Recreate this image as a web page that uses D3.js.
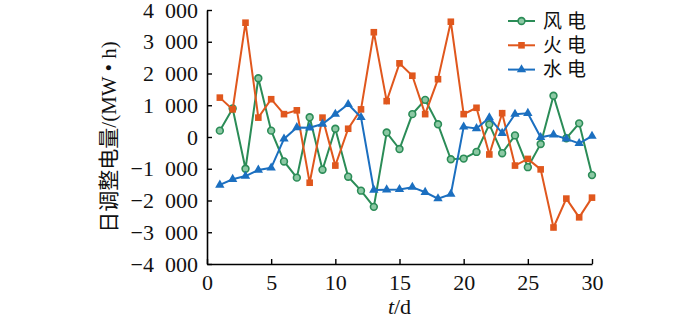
<!DOCTYPE html>
<html>
<head>
<meta charset="utf-8">
<script src="https://cdn.jsdelivr.net/npm/d3@7/dist/d3.min.js"></script>
<style>
    body { margin: 0; background: #fff; }
    #chart { width: 700px; height: 320px; }
</style>
</head>
<body>
<div id="chart"></div>
<script>
// days 1..30
let days = d3.range(1, 31);
let windPower = [200, 900, -1000, 1850, 200, -770, -1280, 620, -1030, 260,
    -1250, -1690, -2200, 140, -380, 720, 1170, 400, -700, -680,
    -470, 400, -510, 50, -950, -220, 1300, -40, 430, -1200];
let thermalPower = [1240, 870, 3600, 610, 1190, 720, 840, -1440, 610, -900,
    260, 870, 3300, 1130, 2320, 1930, 720, 1820, 3630, 720,
    920, -550, 750, -900, -690, -1020, -2850, -1940, -2530, -1910];
let hydroPower = [-1510, -1330, -1230, -1040, -970, -60, 300, 290, 410, 720,
    1030, 620, -1670, -1660, -1650, -1580, -1740, -1940, -1800, 320,
    270, 610, 120, 720, 750, -10, 70, -60, -200, 30];
let seriesNames = ["风电", "火电", "水电"];
let yTicks = [-4000, -3000, -2000, -1000, 0, 1000, 2000, 3000, 4000];
let xTicks = [0, 5, 10, 15, 20, 25, 30];

let margin = {top: 10, right: 108, bottom: 56, left: 207};
let width = 700 - margin.left - margin.right;
let height = 320 - margin.top - margin.bottom;

let svg = d3.select("#chart").append("svg")
    .attr("width", 700)
    .attr("height", 320)
    .append("g")
    .attr("transform", "translate(" + margin.left + "," + margin.top + ")");

let x = d3.scaleLinear().domain([0, 30]).range([0, width]);
let y = d3.scaleLinear().domain([-4000, 4000]).range([height, 0]);

// "4 000" style labels with a digit-wide space and a real minus sign
function fmt(v) {
    if (v === 0) return "0";
    let a = Math.abs(v);
    let s = Math.floor(a / 1000) + "\u2002" + d3.format("03d")(a % 1000);
    return (v < 0 ? "\u2212" : "") + s;
}

let serif = "'Liberation Serif', 'Times New Roman', 'DejaVu Serif', serif";

let xAxis = svg.append("g")
    .attr("transform", "translate(0," + height + ")")
    .call(d3.axisBottom(x).tickValues(xTicks).tickSizeInner(-5).tickSizeOuter(0).tickPadding(10));
let yAxis = svg.append("g")
    .call(d3.axisLeft(y).tickValues(yTicks).tickFormat(fmt).tickSizeInner(-5).tickSizeOuter(0).tickPadding(9));

[xAxis, yAxis].forEach(function (ax) {
    ax.attr("font-family", serif).attr("font-size", 22);
    ax.select(".domain").attr("stroke", "#000").attr("stroke-width", 1.6);
    ax.selectAll(".tick line").attr("stroke", "#000").attr("stroke-width", 1.4);
    ax.selectAll(".tick text")
        .attr("fill", "#111")
        .style("font-family", serif)
        .style("font-size", "22px");
});

let series = [
    {name: seriesNames[0], values: windPower, color: "#2b8c57", marker: "circle"},
    {name: seriesNames[1], values: thermalPower, color: "#e0571d", marker: "square"},
    {name: seriesNames[2], values: hydroPower, color: "#1b6fc0", marker: "triangle"}
];

function drawMarker(g, type, color) {
    if (type === "circle") {
        g.append("circle").attr("r", 3.4)
            .attr("fill", "#8cc9a4").attr("stroke", color).attr("stroke-width", 1.6);
    } else if (type === "square") {
        g.append("rect").attr("x", -3.3).attr("y", -3.3).attr("width", 6.6).attr("height", 6.6)
            .attr("fill", color);
    } else {
        g.append("path").attr("d", d3.symbol().type(d3.symbolTriangle).size(38)())
            .attr("fill", color);
    }
}

let line = d3.line()
    .x(function (d, i) { return x(days[i]); })
    .y(function (d) { return y(d); });

series.forEach(function (s) {
    svg.append("path")
        .datum(s.values)
        .attr("fill", "none")
        .attr("stroke", s.color)
        .attr("stroke-width", 2)
        .attr("d", line);

    svg.selectAll(null)
        .data(s.values)
        .enter().append("g")
        .attr("transform", function (d, i) { return "translate(" + x(days[i]) + "," + y(d) + ")"; })
        .each(function () { drawMarker(d3.select(this), s.marker, s.color); });
});

// legend
let legend = svg.append("g").attr("transform", "translate(" + (width - 84) + ",11)");
series.forEach(function (s, i) {
    let row = legend.append("g").attr("transform", "translate(0," + (i * 24.3) + ")");
    row.append("line").attr("x1", 0).attr("x2", 27).attr("y1", 0).attr("y2", 0)
        .attr("stroke", s.color).attr("stroke-width", 2);
    drawMarker(row.append("g").attr("transform", "translate(13.5,0)"), s.marker, s.color);
    row.append("text")
        .attr("x", 35).attr("y", 0).attr("dy", "0.36em")
        .attr("fill", "#111")
        .style("font-family", "'Noto Sans CJK SC', sans-serif")
        .style("font-size", "19px")
        .style("letter-spacing", "5px")
        .text(s.name);
});

// axis titles
svg.append("text")
    .attr("transform", "translate(" + (-98) + "," + (height / 2) + ") rotate(-90)")
    .attr("text-anchor", "middle")
    .attr("dy", "0.35em")
    .attr("fill", "#111")
    .style("font-family", serif + ", 'Noto Sans CJK SC'")
    .style("font-size", "21px")
    .text("日调整电量/(MW • h)");

let xt = svg.append("text")
    .attr("x", width / 2)
    .attr("y", height + 50)
    .attr("text-anchor", "middle")
    .attr("fill", "#111")
    .style("font-family", serif)
    .style("font-size", "22px");
xt.append("tspan").style("font-style", "italic").text("t");
xt.append("tspan").text("/d");
</script>
</body>
</html>
